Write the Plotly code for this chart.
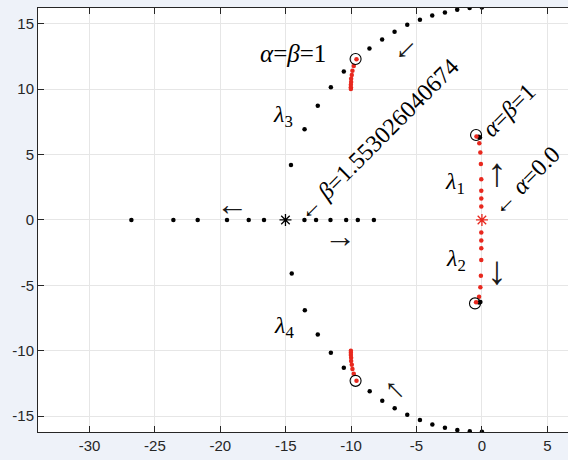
import plotly.graph_objects as go

# ---- data ----
# black locus points, upper complex branch (lambda3 path)
up_x = [-14.6, -13.56, -12.55, -11.55, -10.56, -8.6, -7.63, -6.68, -5.71, -4.74, -3.8, -2.83, -1.89, -0.94, 0.0]
up_y = [4.2, 6.94, 8.72, 10.15, 11.35, 13.1, 13.8, 14.38, 14.92, 15.3, 15.63, 15.86, 16.07, 16.2, 16.24]
# black locus points, lower complex branch (lambda4 path)
lo_x = [-14.54, -13.54, -12.55, -11.55, -10.56, -8.58, -7.62, -6.67, -5.71, -4.74, -3.79, -2.83, -1.88, -0.93, 0.0]
lo_y = [-4.1, -6.91, -8.75, -10.15, -11.3, -13.1, -13.82, -14.4, -14.89, -15.29, -15.63, -15.88, -16.06, -16.16, -16.2]
# black locus points on the real axis
real_x = [-26.8, -23.59, -21.73, -19.49, -17.83, -16.66, -13.57, -12.68, -11.58, -10.38, -9.49, -8.26]
real_y = [0, 0, 0, 0, 0, 0, 0, 0, 0, 0, 0, 0]
# black points at the lambda1 / lambda2 end
end_x = [-0.25, -0.15, -0.22, -0.12]
end_y = [6.35, 6.3, -6.32, -6.28]

# red paths
l1_x = [-0.05, -0.05, -0.05, -0.05, -0.08, -0.12, -0.2, -0.42]
l1_y = [1.02, 1.63, 2.24, 3.11, 4.28, 5.15, 5.87, 6.37]
l2_x = [-0.05, -0.05, -0.05, -0.05, -0.08, -0.12, -0.22, -0.45]
l2_y = [-0.97, -1.58, -2.17, -3.06, -4.26, -5.15, -5.87, -6.3]
l3_x = [-10.02, -10.02, -10.02, -10.0, -10.0, -9.95, -9.9, -9.8, -9.59]
l3_y = [10.0, 10.15, 10.33, 10.54, 10.79, 11.07, 11.4, 11.76, 12.29]
l4_x = [-10.02, -10.02, -10.02, -10.0, -10.0, -9.95, -9.9, -9.8, -9.59]
l4_y = [-10.0, -10.15, -10.33, -10.54, -10.79, -11.07, -11.4, -11.76, -12.29]

# circled end points
circ_x = [-9.66, -9.66, -0.45, -0.53]
circ_y = [12.3, -12.3, 6.49, -6.38]
# stars
star_black = (-15.02, 0.0)
star_red = (0.0, 0.0)

# text labels: (text, x, y, angle, size)
labels = [
    ("<i>α</i>=<i>β</i>=1", -14.44, 12.76, 0, 25),
    ("<i>λ</i><sub>3</sub>", -15.21, 7.94, 0, 24),
    ("<i>λ</i><sub>1</sub>", -2.09, 2.86, 0, 24),
    ("<i>λ</i><sub>2</sub>", -2.02, -3.07, 0, 24),
    ("<i>λ</i><sub>4</sub>", -15.17, -8.15, 0, 24),
    ("← <i>β</i>=1.553026040674", -7.92, 6.15, -45, 24),
    ("← <i>α</i>=0.0", 3.3, 3.0, -45, 24),
    ("<i>α</i>=<i>β</i>=1", 2.07, 8.4, -45, 24),
]
# direction arrows: (glyph, x, y, angle, size)
arrows = [
    ("←", -19.11, 1.22, 0, 32),
    ("→", -10.85, -1.23, 0, 32),
    ("↑", 1.15, 3.59, 0, 40),
    ("↓", 1.15, -3.83, 0, 40),
    ("←", -6.11, 13.29, -45, 32),
    ("←", -6.34, -12.71, 45, 32),
]

x_ticks = [-30, -25, -20, -15, -10, -5, 0, 5]
y_ticks = [-15, -10, -5, 0, 5, 10, 15]

fig = go.Figure()

def dots(x, y, color):
    fig.add_trace(go.Scatter(x=x, y=y, mode="markers",
                             marker=dict(size=4.5, color=color, line=dict(width=0)),
                             hoverinfo="skip", showlegend=False))

dots(up_x, up_y, "black")
dots(lo_x, lo_y, "black")
dots(real_x, real_y, "black")
dots(end_x, end_y, "black")
for xx, yy in [(l1_x, l1_y), (l2_x, l2_y), (l3_x, l3_y), (l4_x, l4_y)]:
    dots(xx, yy, "#e8281e")

fig.add_trace(go.Scatter(x=circ_x, y=circ_y, mode="markers",
                         marker=dict(symbol="circle-open", size=11, color="black", line=dict(width=1.1)),
                         hoverinfo="skip", showlegend=False))
fig.add_trace(go.Scatter(x=[star_black[0]], y=[star_black[1]], mode="markers",
                         marker=dict(symbol="asterisk-open", size=10, color="black", line=dict(width=1.3, color="black")),
                         hoverinfo="skip", showlegend=False))
fig.add_trace(go.Scatter(x=[star_red[0]], y=[star_red[1]], mode="markers",
                         marker=dict(symbol="asterisk-open", size=10, color="#e8281e", line=dict(width=1.3, color="#e8281e")),
                         hoverinfo="skip", showlegend=False))

for text, x, y, ang, sz in labels:
    fig.add_annotation(x=x, y=y, text=text, showarrow=False, textangle=ang,
                       xanchor="center", yanchor="middle",
                       font=dict(family="Liberation Serif", size=sz, color="black"))
for text, x, y, ang, sz in arrows:
    fig.add_annotation(x=x, y=y, text=text, showarrow=False, textangle=ang,
                       xanchor="center", yanchor="middle",
                       font=dict(family="Liberation Serif", size=sz, color="#1a1a1a"))

axis_common = dict(
    showgrid=True, gridcolor="#e6e6e6", gridwidth=1,
    zeroline=False, showline=True, linecolor="#262626", linewidth=1,
    ticks="inside", ticklen=6, tickcolor="#262626", tickwidth=1,
    tickfont=dict(family="Liberation Sans", size=15, color="#262626"),
    automargin=False,
)

fig.update_xaxes(range=[-33.94, 6.58], tickvals=x_ticks, ticktext=[str(v) for v in x_ticks],
                 mirror="ticks", **axis_common)
fig.update_yaxes(range=[-16.21, 16.2], tickvals=y_ticks, ticktext=[str(v) for v in y_ticks],
                 **axis_common)

fig.update_layout(
    width=568, height=460,
    margin=dict(l=38, r=0, t=8, b=28, pad=0),
    paper_bgcolor="#eef2f9", plot_bgcolor="white",
    showlegend=False,
)

fig.write_html("out.html", config={"displayModeBar": False},
               post_script="document.body.style.margin='0';document.body.style.background='#eef2f9';")
